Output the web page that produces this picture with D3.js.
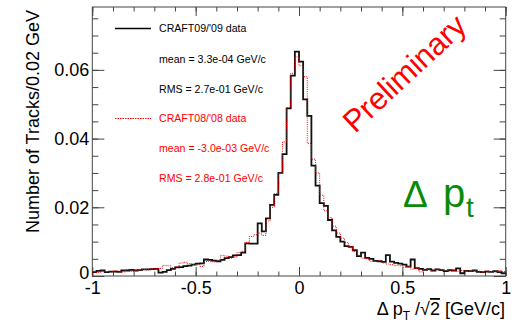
<!DOCTYPE html>
<html><head><meta charset="utf-8">
<script src="https://cdn.jsdelivr.net/npm/d3@7"></script>
<style>
html,body{margin:0;padding:0;background:#fff;}
svg{display:block;font-family:"Liberation Sans",Arial,Helvetica,sans-serif;}
</style></head>
<body>
<svg id="c" width="518" height="322"></svg>
<script>
// ---- data ----
const binLow = -1, binHigh = 1, nBins = 100;
const xTicks = [-1, -0.5, 0, 0.5, 1];
const xTickLabels = ["-1", "-0.5", "0", "0.5", "1"];
const yTicks = [0, 0.02, 0.04, 0.06];
const yTickLabels = ["0", "0.02", "0.04", "0.06"];
const craft09 = [
 0.0011,0.0015,0.0016,0.0011,0.0013,0.0013,0.0012,0.0016,0.0016,0.0018,
 0.0016,0.0017,0.0019,0.0019,0.0020,0.0021,0.0010,0.0012,0.0017,0.0021,
 0.0025,0.0026,0.0029,0.0030,0.0033,0.0036,0.0037,0.0048,0.0047,0.0045,
 0.0043,0.0047,0.0052,0.0055,0.0060,0.0061,0.0068,0.0095,0.0094,0.0094,
 0.0153,0.0130,0.0168,0.0207,0.0236,0.0300,0.0355,0.0488,0.0583,0.0653,
 0.0624,0.0514,0.0466,0.0321,0.0263,0.0212,0.0204,0.0163,0.0133,0.0114,
 0.0100,0.0087,0.0085,0.0075,0.0058,0.0068,0.0053,0.0050,0.0044,0.0043,
 0.0041,0.0061,0.0042,0.0038,0.0036,0.0033,0.0027,0.0048,0.0023,0.0021,
 0.0018,0.0020,0.0016,0.0019,0.0017,0.0014,0.0017,0.0016,0.0022,0.0008,
 0.0015,0.0014,0.0016,0.0012,0.0011,0.0013,0.0012,0.0014,0.0011,0.0008];
const craft08 = [
 0.0012,0.0010,0.0014,0.0013,0.0011,0.0015,0.0014,0.0012,0.0019,0.0014,
 0.0017,0.0016,0.0019,0.0018,0.0020,0.0021,0.0022,0.0031,0.0030,0.0024,
 0.0027,0.0038,0.0040,0.0036,0.0034,0.0033,0.0028,0.0042,0.0043,0.0041,
 0.0045,0.0060,0.0058,0.0052,0.0055,0.0068,0.0072,0.0098,0.0115,0.0120,
 0.0125,0.0118,0.0160,0.0200,0.0240,0.0300,0.0390,0.0490,0.0590,0.0638,
 0.0612,0.0580,0.0386,0.0340,0.0300,0.0235,0.0190,0.0170,0.0145,0.0125,
 0.0110,0.0097,0.0085,0.0072,0.0060,0.0052,0.0050,0.0043,0.0043,0.0045,
 0.0038,0.0035,0.0033,0.0030,0.0030,0.0026,0.0028,0.0020,0.0022,0.0012,
 0.0020,0.0018,0.0015,0.0020,0.0017,0.0016,0.0014,0.0017,0.0014,0.0016,
 0.0015,0.0013,0.0015,0.0014,0.0011,0.0015,0.0013,0.0012,0.0016,0.0013];
const legendRows = [
 {text:"CRAFT09/'09 data", color:"#000", line:"solid"},
 {text:"mean = 3.3e-04 GeV/c", color:"#000"},
 {text:"RMS = 2.7e-01 GeV/c", color:"#000"},
 {text:"CRAFT08/'08 data", color:"#f00", line:"dotted"},
 {text:"mean = -3.0e-03 GeV/c", color:"#f00"},
 {text:"RMS = 2.8e-01 GeV/c", color:"#f00"}
];

// ---- layout ----
const L = 92.3, R = 505.7, T = 7, B = 276;
const svg = d3.select("#c");
const x = d3.scaleLinear().domain([binLow, binHigh]).range([L, R]);
const y = d3.scaleLinear().domain([0, 0.0783]).range([B, T]);
const bw = (binHigh - binLow) / nBins;
const axisCol = "#444";

function styleAxis(g){ g.select(".domain").remove(); g.selectAll("line").attr("stroke", axisCol); }

const xMinor = d3.range(-10, 11).map(d => d / 10);
const yMinor = d3.range(0, 16).map(d => d * 0.005);

// bottom axis
svg.append("g").attr("transform",`translate(0,${B})`)
  .call(d3.axisBottom(x).tickValues(xMinor).tickSizeInner(-4.5).tickSizeOuter(0).tickFormat(""))
  .call(styleAxis);
svg.append("g").attr("transform",`translate(0,${B})`)
  .call(d3.axisBottom(x).tickValues(xTicks).tickSizeInner(-9).tickSizeOuter(0).tickPadding(5)
        .tickFormat((d,i)=>xTickLabels[i]))
  .call(styleAxis)
  .call(g=>g.selectAll("text").attr("font-size",18).attr("fill","#000").attr("font-family","Liberation Sans, Arial, sans-serif"));
// top axis
svg.append("g").attr("transform",`translate(0,${T})`)
  .call(d3.axisTop(x).tickValues(xMinor).tickSizeInner(-4.5).tickSizeOuter(0).tickFormat(""))
  .call(styleAxis);
svg.append("g").attr("transform",`translate(0,${T})`)
  .call(d3.axisTop(x).tickValues(xTicks).tickSizeInner(-9).tickSizeOuter(0).tickFormat(""))
  .call(styleAxis);
// left axis
svg.append("g").attr("transform",`translate(${L},0)`)
  .call(d3.axisLeft(y).tickValues(yMinor).tickSizeInner(-6).tickSizeOuter(0).tickFormat(""))
  .call(styleAxis);
svg.append("g").attr("transform",`translate(${L},0)`)
  .call(d3.axisLeft(y).tickValues(yTicks).tickSizeInner(-12).tickSizeOuter(0).tickPadding(3)
        .tickFormat((d,i)=>yTickLabels[i]))
  .call(styleAxis)
  .call(g=>g.selectAll("text").attr("font-size",18).attr("fill","#000").attr("font-family","Liberation Sans, Arial, sans-serif")
        .attr("dy",(d)=> d===0 ? "0.12em" : "0.32em"));
// right axis
svg.append("g").attr("transform",`translate(${R},0)`)
  .call(d3.axisRight(y).tickValues(yMinor).tickSizeInner(-6).tickSizeOuter(0).tickFormat(""))
  .call(styleAxis);
svg.append("g").attr("transform",`translate(${R},0)`)
  .call(d3.axisRight(y).tickValues(yTicks).tickSizeInner(-12).tickSizeOuter(0).tickFormat(""))
  .call(styleAxis);

// frame
svg.append("rect").attr("x",L).attr("y",T).attr("width",R-L).attr("height",B-T)
  .attr("fill","none").attr("stroke",axisCol).attr("stroke-width",1);

// histograms
function stepPath(vals){
  let p = `M${x(binLow)},${y(vals[0])}`;
  vals.forEach((v,i)=>{
    if(i>0) p += `V${y(v)}`;
    p += `H${x(binLow + (i+1)*bw)}`;
  });
  return p;
}
svg.append("path").attr("d", stepPath(craft09)).attr("fill","none")
  .attr("stroke","#111").attr("stroke-width",1.8);
svg.append("path").attr("d", stepPath(craft08)).attr("fill","none")
  .attr("stroke","#f00").attr("stroke-width",1).attr("stroke-dasharray","1,1.2");

// legend
const rowY = [28.5, 59, 89, 118.5, 148.7, 178.3];
legendRows.forEach((r,i)=>{
  if(r.line){
    svg.append("line").attr("x1",115).attr("x2",151).attr("y1",rowY[i]).attr("y2",rowY[i])
      .attr("stroke",r.color).attr("stroke-width",r.line==="solid"?1.6:1.2)
      .attr("stroke-dasharray",r.line==="dotted"?"1.5,1":null);
  }
  svg.append("text").attr("x",159).attr("y",rowY[i]+3.7).attr("font-size",10.6)
    .attr("fill",r.color).text(r.text);
});

// axis titles
svg.append("text").attr("transform","translate(38.5,10) rotate(-90)")
  .attr("text-anchor","end").attr("font-size",18).attr("fill","#000")
  .text("Number of Tracks/0.02 GeV");

const xt = svg.append("text").attr("x",505).attr("y",315).attr("text-anchor","end")
  .attr("font-size",18).attr("fill","#000");
xt.append("tspan").text("Δ p");
xt.append("tspan").attr("font-size",12).attr("dy",5).text("T");
xt.append("tspan").attr("dy",-5).text(" /√");
xt.append("tspan").attr("style","text-decoration:overline").text("2");
xt.append("tspan").text(" [GeV/c]");

// Preliminary
svg.append("text").attr("transform","translate(355,134) rotate(-43)")
  .attr("font-size",31).attr("fill","#f00").text("Preliminary");

// Delta p_t
const green = "#0a8a0a";
svg.append("text").attr("x",403).attr("y",207).attr("font-size",37).attr("fill",green).text("Δ");
svg.append("text").attr("x",443).attr("y",207).attr("font-size",40).attr("fill",green).text("p");
svg.append("text").attr("x",466).attr("y",217).attr("font-size",28).attr("fill",green).text("t");
</script>
</body></html>
